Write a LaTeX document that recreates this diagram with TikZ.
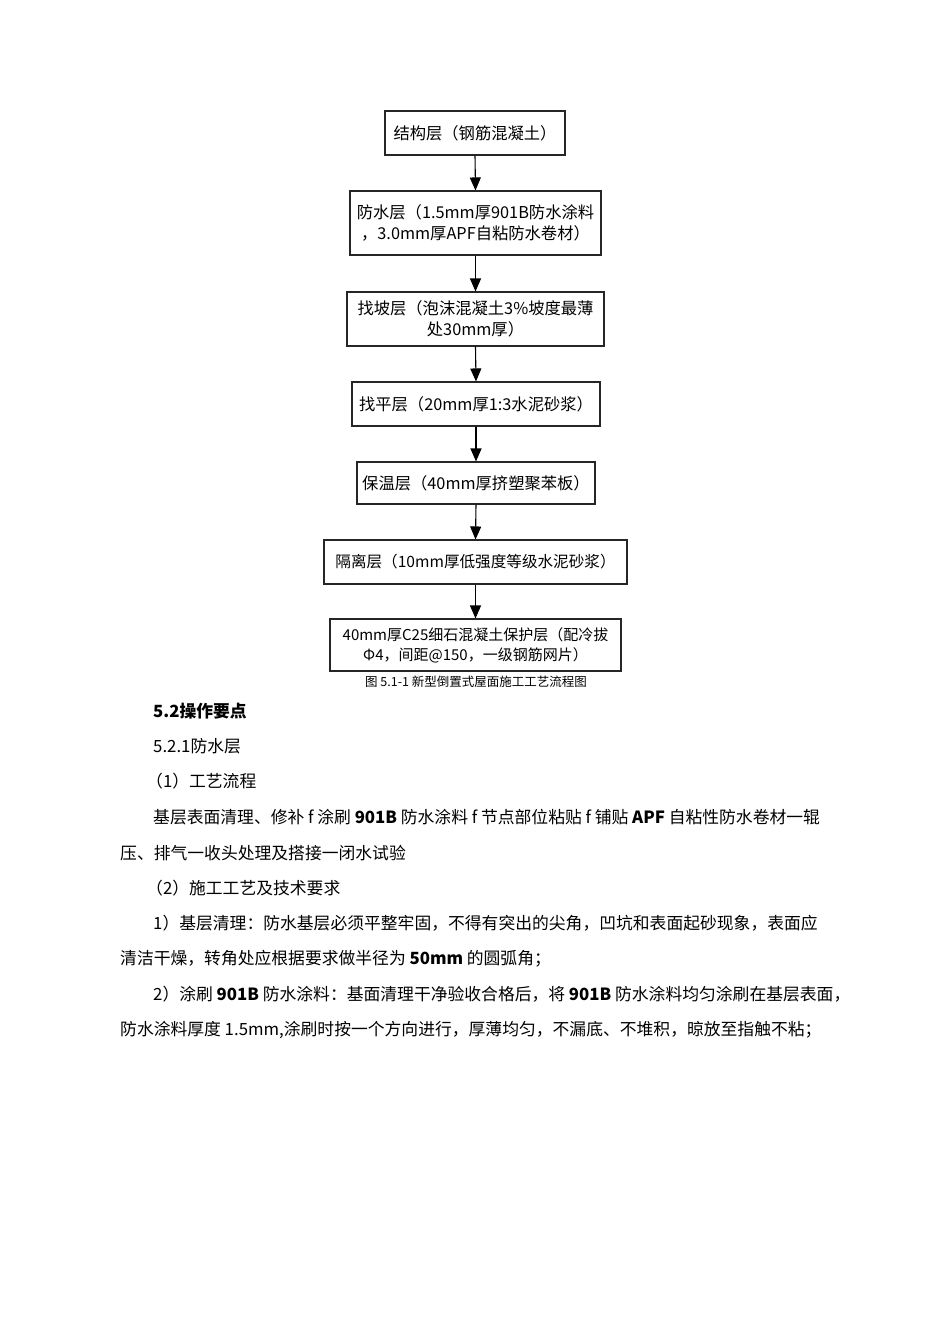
\documentclass[tikz,border=0pt]{standalone}
\usepackage{fontspec}
\setmainfont{Noto Sans CJK SC}
\usetikzlibrary{arrows.meta}
\begin{document}
\begin{tikzpicture}[x=1pt,y=-1pt,
    layer/.style={draw=black!85,line width=1.1pt,inner sep=0pt,align=center,font=\fontsize{16.3}{21}\selectfont},
    flow/.style={-{Triangle[length=13pt,width=11pt]},line width=1.1pt},
    para/.style={anchor=west,inner sep=0pt,font=\fontsize{16.8}{20}\selectfont}]
    \useasboundingbox[fill=white] (0,0) rectangle (950,1344);
    \node[layer,minimum width=180pt,minimum height=44pt] (jiegou) at (475,133) {结构层（钢筋混凝土）};
    \node[layer,minimum width=251pt,minimum height=64pt] (fangshui) at (475.5,223) {防水层（1.5mm厚901B防水涂料\\，3.0mm厚APF自粘防水卷材）};
    \node[layer,minimum width=257pt,minimum height=54pt] (zhaopo) at (475.5,319) {找坡层（泡沫混凝土3\%坡度最薄\\处30mm厚）};
    \node[layer,minimum width=248pt,minimum height=44pt] (zhaoping) at (476,404) {找平层（20mm厚1:3水泥砂浆）};
    \node[layer,minimum width=238pt,minimum height=42pt] (baowen) at (476,483) {保温层（40mm厚挤塑聚苯板）};
    \node[layer,minimum width=303pt,minimum height=44pt,font=\fontsize{15.6}{21}\selectfont] (geli) at (475.5,562) {隔离层（10mm厚低强度等级水泥砂浆）};
    \node[layer,minimum width=291pt,minimum height=52pt,font=\fontsize{15}{20}\selectfont] (baohu) at (475.5,645) {40mm厚C25细石混凝土保护层（配冷拔\\Φ4，间距@150，一级钢筋网片）};
    \draw[flow] (jiegou.south) -- (fangshui.north);
    \draw[flow] (fangshui.south) -- (zhaopo.north);
    \draw[flow] (zhaopo.south) -- (zhaoping.north);
    \draw[flow] (zhaoping.south) -- (baowen.north);
    \draw[flow] (baowen.south) -- (geli.north);
    \draw[flow] (geli.south) -- (baohu.north);
    \node[inner sep=0pt,font=\fontsize{12.5}{14}\selectfont] (caption) at (476,682) {图 5.1-1 新型倒置式屋面施工工艺流程图};
    \node[para] (t1) at (153,711) {\textbf{5.2操作要点}};
    \node[para] (t2) at (153,746) {5.2.1防水层};
    \node[para] (t3) at (146,781) {（1）工艺流程};
    \node[para] (t4) at (153,817) {基层表面清理、修补 f 涂刷 \textbf{901B} 防水涂料 f 节点部位粘贴 f 铺贴 \textbf{APF} 自粘性防水卷材一辊};
    \node[para] (t5) at (120,853) {压、排气一收头处理及搭接一闭水试验};
    \node[para] (t6) at (146,888) {（2）施工工艺及技术要求};
    \node[para] (t7) at (153,923) {1）基层清理：防水基层必须平整牢固，不得有突出的尖角，凹坑和表面起砂现象，表面应};
    \node[para] (t8) at (120,959) {清洁干燥，转角处应根据要求做半径为 \textbf{50mm} 的圆弧角；};
    \node[para] (t9) at (153,994) {2）涂刷 \textbf{901B} 防水涂料：基面清理干净验收合格后，将 \textbf{901B} 防水涂料均匀涂刷在基层表面，};
    \node[para] (t10) at (120,1030) {防水涂料厚度 1.5mm,涂刷时按一个方向进行，厚薄均匀，不漏底、不堆积，晾放至指触不粘；};
\end{tikzpicture}
\end{document}
